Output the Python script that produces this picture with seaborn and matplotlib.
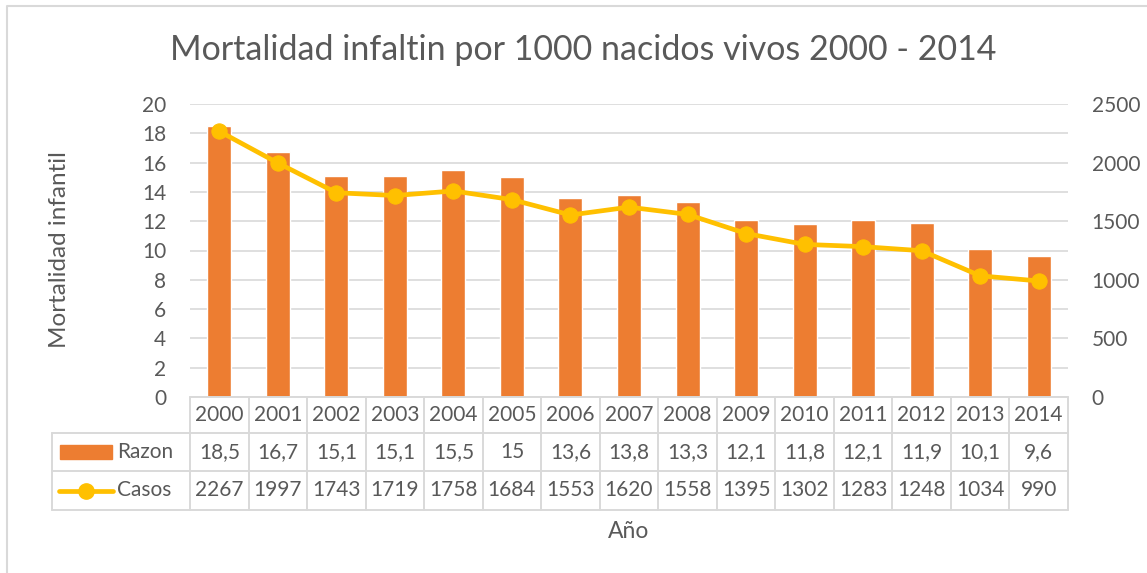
import numpy as np
import pandas as pd
import matplotlib
matplotlib.use("Agg")
import matplotlib.pyplot as plt
import seaborn as sns
from matplotlib.lines import Line2D
from matplotlib.patches import Rectangle

# datos
years = ["2000", "2001", "2002", "2003", "2004", "2005", "2006", "2007",
         "2008", "2009", "2010", "2011", "2012", "2013", "2014"]
razon = [18.5, 16.7, 15.1, 15.1, 15.5, 15, 13.6, 13.8, 13.3, 12.1, 11.8, 12.1, 11.9, 10.1, 9.6]
casos = [2267, 1997, 1743, 1719, 1758, 1684, 1553, 1620, 1558, 1395, 1302, 1283, 1248, 1034, 990]
left_ticks = [0, 2, 4, 6, 8, 10, 12, 14, 16, 18, 20]
right_ticks = [0, 500, 1000, 1500, 2000, 2500]

ORANGE = "#ED7D31"
GOLD = "#FFC000"
TXT = "#595959"
GRID = "#D9D9D9"
FS = 15

sns.set_style("white")
plt.rcParams['font.family'] = ['Lato', 'DejaVu Sans']

df = pd.DataFrame({"year": years, "razon": razon, "casos": casos})
df["pos"] = np.arange(len(years))

W, H = 1147, 573
fig = plt.figure(figsize=(W / 100, H / 100), dpi=100)
x0, x1, y0, y1 = 190, 1068, 104, 397
ax = fig.add_axes([x0 / W, 1 - y1 / H, (x1 - x0) / W, (y1 - y0) / H])

sns.barplot(data=df, x="year", y="razon", color=ORANGE, width=0.41,
            saturation=1, ax=ax, zorder=2)
ax.set_ylim(0, 20)
ax.set_yticks(left_ticks)
ax.set_xlim(-0.5, len(years) - 0.5)
ax.yaxis.grid(True, color=GRID, linewidth=1.2, zorder=0)
ax.set_axisbelow(True)
ax.set_xticks([])
ax.set_xlabel("")
ax.set_ylabel("")
for s in ax.spines.values():
    s.set_visible(False)
ax.tick_params(axis="y", length=0, labelsize=FS, labelcolor=TXT, pad=17)

ax2 = ax.twinx()
sns.lineplot(data=df, x="pos", y="casos", color=GOLD, linewidth=3.4,
             marker="o", markersize=11, markeredgecolor=GOLD, ax=ax2, zorder=3)
ax2.set_ylim(0, 2500)
ax2.set_yticks(right_ticks)
ax2.set_xlim(-0.5, len(years) - 0.5)
ax2.set_xlabel("")
ax2.set_ylabel("")
for s in ax2.spines.values():
    s.set_visible(False)
ax2.tick_params(axis="y", length=0, labelsize=FS, labelcolor=TXT, pad=17)

# tabla de datos (en pixeles de la figura)
def fx(px):
    return px / W

def fy(py):
    return 1 - py / H

cw = (x1 - x0) / len(years)
rows = [397, 433, 471, 510]
lx = 52
lc = dict(color=GRID, linewidth=1.4, transform=fig.transFigure)
fig.add_artist(Line2D([fx(x0), fx(x1)], [fy(rows[0]), fy(rows[0])], **lc))
for r in rows[1:]:
    fig.add_artist(Line2D([fx(lx), fx(x1)], [fy(r), fy(r)], **lc))
for i in range(len(years) + 1):
    xx = x0 + i * cw
    fig.add_artist(Line2D([fx(xx), fx(xx)], [fy(rows[0]), fy(rows[3])], **lc))
fig.add_artist(Line2D([fx(lx), fx(lx)], [fy(rows[1]), fy(rows[3])], **lc))

for i, (yr, r, c) in enumerate(zip(years, razon, casos)):
    cx = fx(x0 + (i + 0.5) * cw)
    fig.text(cx, fy((rows[0] + rows[1]) / 2), yr, ha="center", va="center",
             fontsize=FS, color=TXT)
    fig.text(cx, fy((rows[1] + rows[2]) / 2), f"{r:g}".replace(".", ","),
             ha="center", va="center", fontsize=FS, color=TXT)
    fig.text(cx, fy((rows[2] + rows[3]) / 2), str(c), ha="center", va="center",
             fontsize=FS, color=TXT)

# claves de leyenda en la tabla
ym1 = (rows[1] + rows[2]) / 2
fig.add_artist(Rectangle((fx(60), fy(ym1 + 7)), fx(112) - fx(60), 14 / H,
                         color=ORANGE, transform=fig.transFigure))
fig.text(fx(117), fy(ym1), "Razon", ha="left", va="center", fontsize=FS, color=TXT)
ym2 = (rows[2] + rows[3]) / 2
fig.add_artist(Line2D([fx(59), fx(113)], [fy(ym2), fy(ym2)], color=GOLD,
                      linewidth=3.4, solid_capstyle="round", transform=fig.transFigure))
fig.add_artist(Line2D([fx(86)], [fy(ym2)], color=GOLD, marker="o", markersize=11,
                      transform=fig.transFigure))
fig.text(fx(117), fy(ym2), "Casos", ha="left", va="center", fontsize=FS, color=TXT)

# titulos
fig.text(fx(583), fy(50), "Mortalidad infaltin por 1000 nacidos vivos 2000 - 2014",
         ha="center", va="center", fontsize=24.5, color=TXT)
fig.text(fx((x0 + x1) / 2), fy(532), "Año", ha="center", va="center",
         fontsize=16.5, color=TXT)
fig.text(fx(60), fy(250), "Mortalidad infantil", ha="center", va="center",
         rotation=90, fontsize=17.5, color=TXT)

# borde del grafico
fig.add_artist(Line2D([fx(7), fx(7), fx(W + 5)], [fy(H + 5), fy(6), fy(6)],
                      color=GRID, linewidth=1.5, transform=fig.transFigure))

fig.savefig("out.png", dpi=100, facecolor="white")
